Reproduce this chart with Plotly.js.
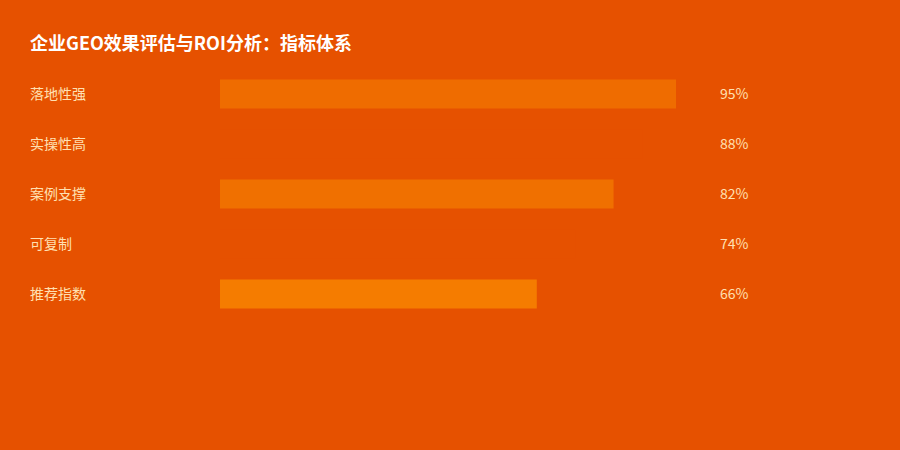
<!DOCTYPE html>
<html>
<head>
<meta charset="utf-8">
<script src="https://cdn.plot.ly/plotly-3.0.1.min.js"></script>
<style>html,body{margin:0;padding:0;background:#E65100;}#chart{width:900px;height:450px;}</style>
</head>
<body>
<div id="chart"></div>
<script>
var categories = ["落地性强", "实操性高", "案例支撑", "可复制", "推荐指数"];
var values = [95, 88, 82, 74, 66];
var valueLabels = ["95%", "88%", "82%", "74%", "66%"];
var barColors = ["#EF6C00", "#E65100", "#F07000", "#E65100", "#F57C00"];
var titleText = "企业GEO效果评估与ROI分析：指标体系";

var font = '"Noto Sans CJK SC", "Noto Sans", sans-serif';

var trace = {
  type: "bar",
  orientation: "h",
  x: values,
  y: categories,
  marker: {color: barColors, line: {width: 0}},
  hoverinfo: "none",
  width: 0.58
};

var annotations = [];
categories.forEach(function (c, i) {
  annotations.push({
    xref: "paper", yref: "y", x: -0.4, y: c, text: c,
    xanchor: "left", yanchor: "middle", showarrow: false, yshift: 1,
    font: {family: font, size: 14, color: "#FFE0B2"}
  });
  annotations.push({
    xref: "paper", yref: "y", x: 1.0375, y: c, text: valueLabels[i],
    xanchor: "left", yanchor: "middle", showarrow: false, yshift: 1,
    font: {family: font, size: 14, color: "#FFE0B2"}
  });
});

var layout = {
  width: 900, height: 450,
  paper_bgcolor: "#E65100", plot_bgcolor: "#E65100",
  margin: {l: 220, r: 200, t: 69, b: 131},
  title: {text: "<b>" + titleText + "</b>", x: 30/900, xanchor: "left", xref: "container",
          y: 1 - 44/450, yanchor: "middle", yref: "container",
          font: {family: font, size: 18, color: "#FFFFFF"}},
  xaxis: {range: [0, 100], visible: false, fixedrange: true},
  yaxis: {categoryorder: "array", categoryarray: categories, autorange: "reversed",
          visible: false, fixedrange: true},
  showlegend: false,
  annotations: annotations
};

Plotly.newPlot("chart", [trace], layout, {displayModeBar: false, staticPlot: true});
</script>
</body>
</html>
